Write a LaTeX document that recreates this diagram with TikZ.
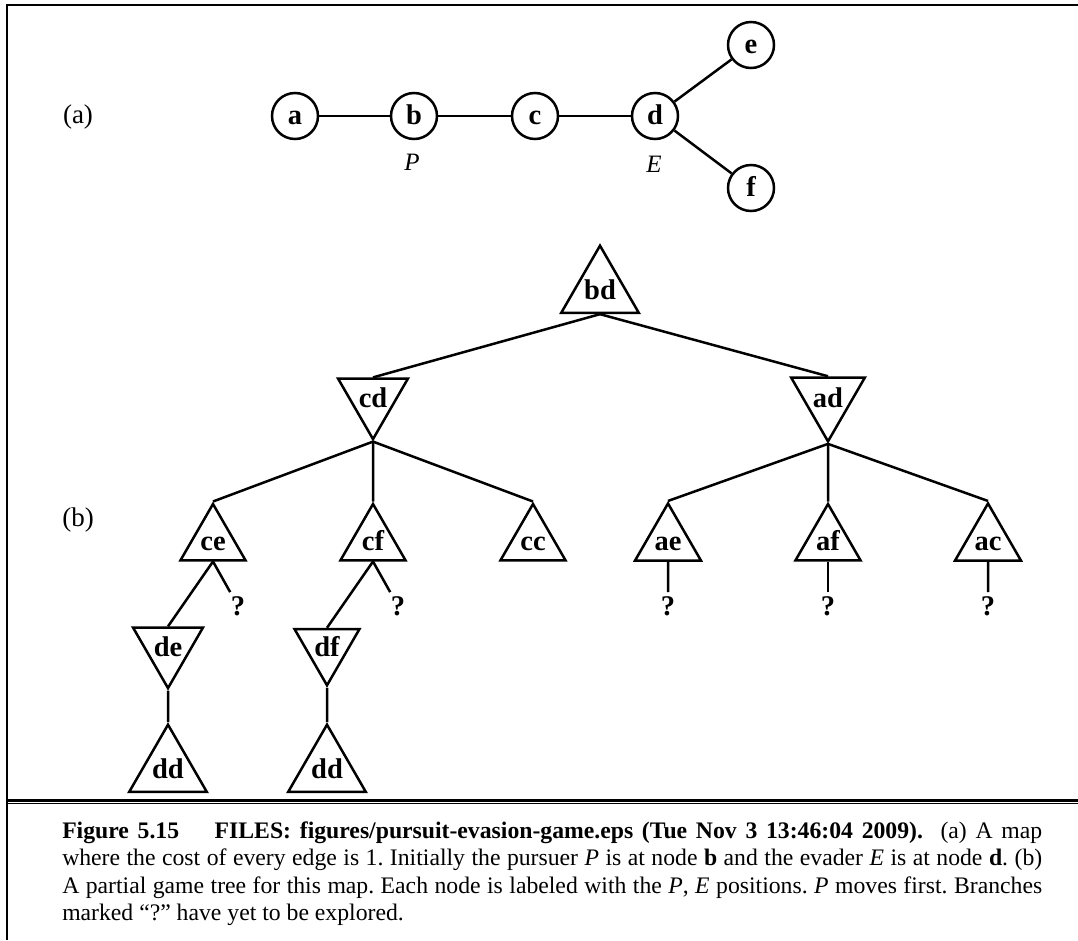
\documentclass[tikz,border=0pt]{standalone}
\usepackage{fontspec}
\setmainfont{Liberation Serif}
\usetikzlibrary{shapes.geometric}

\begin{document}
\begin{tikzpicture}[x=1pt, y=-1pt, line width=2.5pt,
	city/.style={circle, draw, minimum size=46pt, inner sep=0pt, text height=16pt, text depth=0pt, font=\fontsize{28.5}{32}\selectfont\bfseries},
	maxpos/.style={regular polygon, regular polygon sides=3, draw, minimum size=75pt, inner sep=0pt, text height=17pt, text depth=0pt, font=\fontsize{28.5}{32}\selectfont\bfseries},
	minpos/.style={maxpos, shape border rotate=180},
	open/.style={inner sep=3pt, font=\fontsize{28.5}{32}\selectfont\bfseries},
	agent/.style={font=\fontsize{25}{30}\selectfont\itshape},
	part/.style={font=\fontsize{27}{30}\selectfont},
	capline/.style={anchor=base west, inner sep=0pt, font=\fontsize{23.7}{27}\selectfont\frenchspacing}]
	\useasboundingbox (0,0) rectangle (1078,940);
	
	% Frame and caption rule
	\draw[line width=2.4pt] (1078,5) -- (7,5) -- (7,940);
	\draw[line width=2.6pt] (7,800.3) -- (1078,800.3);
	\draw[line width=1.3pt] (7,803.8) -- (1078,803.8);
	
	% (a) The map
	\node[part] (la) at (78,117) {(a)};
	\node[city] (a) at (295,116) {a};
	\node[city] (b) at (414,116) {b};
	\node[city] (c) at (535,116) {c};
	\node[city] (d) at (655,116) {d};
	\node[city] (e) at (751,45) {e};
	\node[city] (f) at (751,188) {f};
	\draw (a) -- (b) -- (c) -- (d);
	\draw (d) -- (e);
	\draw (d) -- (f);
	\node[agent] (P) at (412,162) {P};
	\node[agent] (E) at (654,164) {E};
	
	% (b) The game tree
	\node[part] (lb) at (78,520) {(b)};
	\node[maxpos] (bd) at (600,290.5) {bd};
	\node[minpos] (cd) at (373,398.8) {cd};
	\node[minpos] (ad) at (828,398.8) {ad};
	\draw (bd.south) -- (cd.north);
	\draw (bd.south) -- (ad.north);
	
	% P moves from cd
	\node[maxpos] (ce) at (213,541.5) {ce};
	\node[maxpos] (cf) at (373,541.5) {cf};
	\node[maxpos] (cc) at (533,541.5) {cc};
	\foreach \n in {ce, cf, cc}
		\draw (cd.south) -- (\n.north);
	
	% P moves from ad
	\node[maxpos] (ae) at (668,541.5) {ae};
	\node[maxpos] (af) at (828,541.5) {af};
	\node[maxpos] (ac) at (988,541.5) {ac};
	\foreach \n in {ae, af, ac}
		\draw (ad.south) -- (\n.north);
	
	% Unexplored branches
	\node[open] (q1) at (238,606) {?};
	\node[open] (q2) at (398,606) {?};
	\node[open] (q3) at (668,606) {?};
	\node[open] (q4) at (828,606) {?};
	\node[open] (q5) at (988,606) {?};
	\draw (ce.south) -- (q1);
	\draw (cf.south) -- (q2);
	\draw (ae.south) -- (q3);
	\draw (af.south) -- (q4);
	\draw (ac.south) -- (q5);
	
	% Deeper lines
	\node[minpos] (de) at (168,647.8) {de};
	\node[minpos] (df) at (327,647.8) {df};
	\node[maxpos] (dd1) at (168,769.5) {dd};
	\node[maxpos] (dd2) at (327,769.5) {dd};
	\draw (ce.south) -- (de.north);
	\draw (cf.south) -- (df.north);
	\draw (de.south) -- (dd1.north);
	\draw (df.south) -- (dd2.north);
	
	% Caption, one justified line per node
	\node[capline] (cap1) at (61,838) {\makebox[980pt][s]{\textbf{Figure 5.15}\hspace{1.5em}\textbf{FILES: figures/pursuit-evasion-game.eps (Tue Nov 3 13:46:04 2009).}\ \ (a) A map}};
	\node[capline] (cap2) at (61,865.5) {\makebox[980pt][s]{where the cost of every edge is 1. Initially the pursuer \textit{P} is at node \textbf{b} and the evader \textit{E} is at node \textbf{d}. (b)}};
	\node[capline] (cap3) at (61,893) {\makebox[980pt][s]{A partial game tree for this map. Each node is labeled with the \textit{P}, \textit{E} positions. \textit{P} moves first. Branches}};
	\node[capline] (cap4) at (61,920.5) {marked ``?'' have yet to be explored.};
\end{tikzpicture}
\end{document}
